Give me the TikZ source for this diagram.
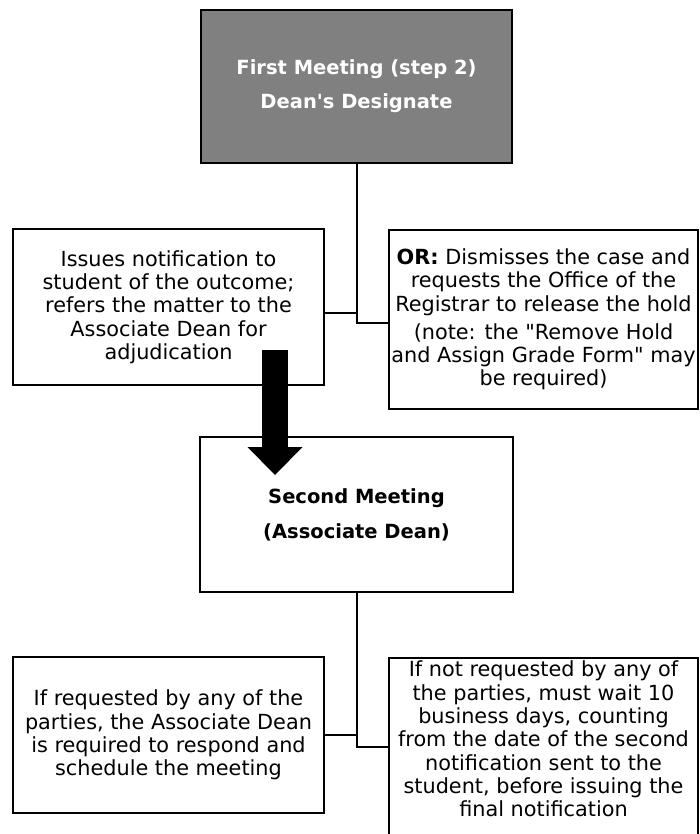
\documentclass[tikz,border=0pt]{standalone}
\usepackage{fontspec}
\setmainfont{DejaVu Sans}[Ligatures=TeXOff]
\usepackage{tikz}
\usetikzlibrary{arrows.meta}

\begin{document}
\begin{tikzpicture}[x=1pt,y=-1pt,
    box/.style={draw,line width=2pt,align=center,inner xsep=0pt,inner ysep=3pt,font=\fontsize{20.8}{23.3}\selectfont},
    title/.style={box,font=\fontsize{19.5}{23.3}\selectfont\bfseries},
    link/.style={line width=2pt}]

        \useasboundingbox (0,0) rectangle (700,834);

        % first level
        \node[title,fill=gray,text=white,minimum width=311pt,minimum height=153pt] (first) at (356.5,86.5)
            {First Meeting (step 2)\\[10.7pt]Dean's Designate};
        \node[box,minimum width=311pt,minimum height=156pt] (issues) at (168.5,307)
            {Issues notification to\\student of the outcome;\\refers the matter to the\\Associate Dean for\\adjudication};
        \node[box,minimum width=309pt,minimum height=179pt] (dismiss) at (543.5,319.5)
            {\textbf{OR:} Dismisses the case and\\requests the Office of the\\Registrar to release the hold\\[5pt](note: the "Remove Hold\\and Assign Grade Form" may\\be required)};

        % second level
        \node[title,minimum width=313pt,minimum height=155pt] (second) at (356.5,514.5)
            {Second Meeting\\[11.7pt](Associate Dean)};
        \node[box,minimum width=311pt,minimum height=156pt] (request) at (168.5,735)
            {If requested by any of the\\parties, the Associate Dean\\is required to respond and\\schedule the meeting};
        \node[box,anchor=north,minimum width=309pt] (wait) at (543.5,657)
            {If not requested by any of\\the parties, must wait 10\\business days, counting\\from the date of the second\\notification sent to the\\student, before issuing the\\final notification\\~};

        \coordinate (arrowtop) at (275,350);
        \coordinate (arrowtip) at (275,475);

        \draw[link] (first.south) |- ([yshift=-3pt]dismiss.west);
        \draw[link] ([yshift=-6pt]issues.east) -- ([yshift=-6pt]issues.east -| first.south);
        \draw[link] (second.south) |- ([yshift=3pt]wait.west);
        \draw[link] (request.east) -- (request.east -| second.south);

        \draw[line width=26pt,-{Triangle[width=55pt,length=28pt,line width=0pt]}] (arrowtop) -- (arrowtip);
      \end{tikzpicture}
\end{document}
